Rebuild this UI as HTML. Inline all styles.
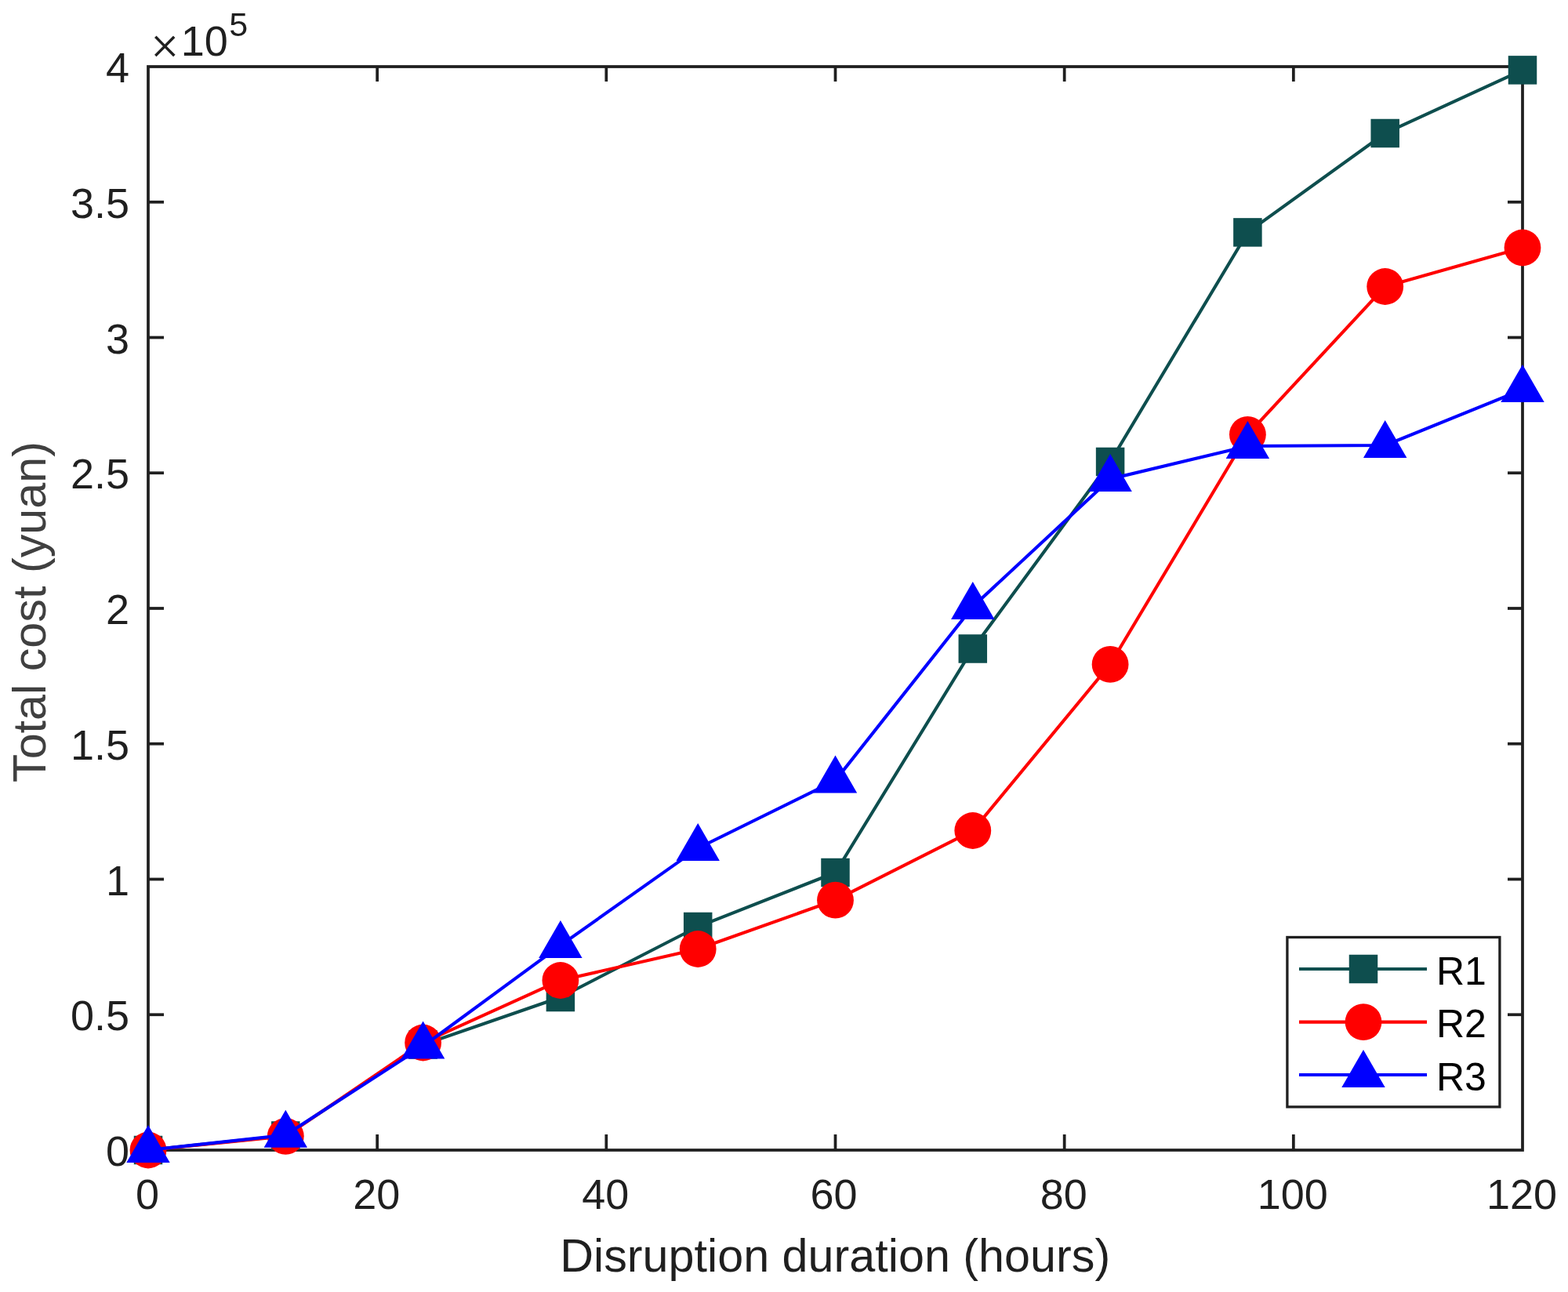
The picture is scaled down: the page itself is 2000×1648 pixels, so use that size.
<!DOCTYPE html><html><head><meta charset="utf-8"><title>Total cost vs disruption duration</title><style>html,body{margin:0;padding:0;background:#fff;width:2000px;height:1648px;overflow:hidden}svg{display:block}text{font-family:'Liberation Sans', Arial, Helvetica, sans-serif}</style></head><body>
<svg width="2000" height="1648" viewBox="0 0 2000 1648">
<rect x="0" y="0" width="2000" height="1648" fill="#fff"/>
<g stroke="#1f1f1f" stroke-width="3.75" fill="none" stroke-linecap="butt">
<rect x="189.0" y="85.0" width="1753.0" height="1382.0"/>
<line x1="481.17" y1="1467.0" x2="481.17" y2="1447.0"/><line x1="481.17" y1="85.0" x2="481.17" y2="104.0"/>
<line x1="773.33" y1="1467.0" x2="773.33" y2="1447.0"/><line x1="773.33" y1="85.0" x2="773.33" y2="104.0"/>
<line x1="1065.50" y1="1467.0" x2="1065.50" y2="1447.0"/><line x1="1065.50" y1="85.0" x2="1065.50" y2="104.0"/>
<line x1="1357.67" y1="1467.0" x2="1357.67" y2="1447.0"/><line x1="1357.67" y1="85.0" x2="1357.67" y2="104.0"/>
<line x1="1649.83" y1="1467.0" x2="1649.83" y2="1447.0"/><line x1="1649.83" y1="85.0" x2="1649.83" y2="104.0"/>
<line x1="189.0" y1="1294.25" x2="209.0" y2="1294.25"/><line x1="1942.0" y1="1294.25" x2="1923.0" y2="1294.25"/>
<line x1="189.0" y1="1121.50" x2="209.0" y2="1121.50"/><line x1="1942.0" y1="1121.50" x2="1923.0" y2="1121.50"/>
<line x1="189.0" y1="948.75" x2="209.0" y2="948.75"/><line x1="1942.0" y1="948.75" x2="1923.0" y2="948.75"/>
<line x1="189.0" y1="776.00" x2="209.0" y2="776.00"/><line x1="1942.0" y1="776.00" x2="1923.0" y2="776.00"/>
<line x1="189.0" y1="603.25" x2="209.0" y2="603.25"/><line x1="1942.0" y1="603.25" x2="1923.0" y2="603.25"/>
<line x1="189.0" y1="430.50" x2="209.0" y2="430.50"/><line x1="1942.0" y1="430.50" x2="1923.0" y2="430.50"/>
<line x1="189.0" y1="257.75" x2="209.0" y2="257.75"/><line x1="1942.0" y1="257.75" x2="1923.0" y2="257.75"/>
</g>
<g fill="#1f1f1f" font-size="54" text-anchor="middle">
<text x="188.00" y="1542">0</text>
<text x="480.17" y="1542">20</text>
<text x="772.33" y="1542">40</text>
<text x="1063.50" y="1542">60</text>
<text x="1356.67" y="1542">80</text>
<text x="1648.83" y="1542">100</text>
<text x="1941.00" y="1542">120</text>
</g>
<g fill="#1f1f1f" font-size="54" text-anchor="end">
<text x="165" y="1487.00">0</text>
<text x="165" y="1314.25">0.5</text>
<text x="165" y="1141.50">1</text>
<text x="165" y="968.75">1.5</text>
<text x="165" y="796.00">2</text>
<text x="165" y="623.25">2.5</text>
<text x="165" y="450.50">3</text>
<text x="165" y="277.75">3.5</text>
<text x="165" y="105.00">4</text>
</g>
<text x="192.1" y="79.8" font-size="62.5" fill="#1f1f1f" stroke="#fff" stroke-width="0.9" paint-order="fill">×</text>
<text x="230.7" y="70.6" font-size="54" fill="#1f1f1f">10</text>
<text x="292.3" y="46.4" font-size="43" fill="#1f1f1f">5</text>
<text x="1065.2" y="1621.5" font-size="59.3" fill="#1f1f1f" text-anchor="middle">Disruption duration (hours)</text>
<text transform="translate(57.6 780.5) rotate(-90)" font-size="59.3" fill="#404040" text-anchor="middle">Total cost (yuan)</text>
<polyline points="189.00,1467.00 364.30,1448.50 539.60,1332.50 714.90,1272.00 890.20,1182.00 1065.50,1113.00 1240.80,827.50 1416.10,589.00 1591.40,296.40 1766.70,170.00 1942.00,89.40" fill="none" stroke="#0e4e4e" stroke-width="4.1" stroke-linejoin="miter"/>
<rect x="170.75" y="1448.75" width="36.5" height="36.5" fill="#0e4e4e"/>
<rect x="346.05" y="1430.25" width="36.5" height="36.5" fill="#0e4e4e"/>
<rect x="521.35" y="1314.25" width="36.5" height="36.5" fill="#0e4e4e"/>
<rect x="696.65" y="1253.75" width="36.5" height="36.5" fill="#0e4e4e"/>
<rect x="871.95" y="1163.75" width="36.5" height="36.5" fill="#0e4e4e"/>
<rect x="1047.25" y="1094.75" width="36.5" height="36.5" fill="#0e4e4e"/>
<rect x="1222.55" y="809.25" width="36.5" height="36.5" fill="#0e4e4e"/>
<rect x="1397.85" y="570.75" width="36.5" height="36.5" fill="#0e4e4e"/>
<rect x="1573.15" y="278.15" width="36.5" height="36.5" fill="#0e4e4e"/>
<rect x="1748.45" y="151.75" width="36.5" height="36.5" fill="#0e4e4e"/>
<rect x="1923.75" y="71.15" width="36.5" height="36.5" fill="#0e4e4e"/>
<polyline points="189.00,1467.00 364.30,1449.30 539.60,1330.00 714.90,1250.50 890.20,1210.50 1065.50,1148.20 1240.80,1059.50 1416.10,847.40 1591.40,554.30 1766.70,365.50 1942.00,316.00" fill="none" stroke="#ff0000" stroke-width="4.1" stroke-linejoin="miter"/>
<circle cx="189.00" cy="1467.00" r="23.4" fill="#ff0000"/>
<circle cx="364.30" cy="1449.30" r="23.4" fill="#ff0000"/>
<circle cx="539.60" cy="1330.00" r="23.4" fill="#ff0000"/>
<circle cx="714.90" cy="1250.50" r="23.4" fill="#ff0000"/>
<circle cx="890.20" cy="1210.50" r="23.4" fill="#ff0000"/>
<circle cx="1065.50" cy="1148.20" r="23.4" fill="#ff0000"/>
<circle cx="1240.80" cy="1059.50" r="23.4" fill="#ff0000"/>
<circle cx="1416.10" cy="847.40" r="23.4" fill="#ff0000"/>
<circle cx="1591.40" cy="554.30" r="23.4" fill="#ff0000"/>
<circle cx="1766.70" cy="365.50" r="23.4" fill="#ff0000"/>
<circle cx="1942.00" cy="316.00" r="23.4" fill="#ff0000"/>
<polyline points="189.00,1467.00 364.30,1447.80 539.60,1334.50 714.90,1205.90 890.20,1081.90 1065.50,995.60 1240.80,773.90 1416.10,610.90 1591.40,569.00 1766.70,568.00 1942.00,497.00" fill="none" stroke="#0000ff" stroke-width="4.1" stroke-linejoin="miter"/>
<polygon points="189.00,1435.00 216.71,1483.00 161.29,1483.00" fill="#0000ff"/>
<polygon points="364.30,1415.80 392.01,1463.80 336.59,1463.80" fill="#0000ff"/>
<polygon points="539.60,1302.50 567.31,1350.50 511.89,1350.50" fill="#0000ff"/>
<polygon points="714.90,1173.90 742.61,1221.90 687.19,1221.90" fill="#0000ff"/>
<polygon points="890.20,1049.90 917.91,1097.90 862.49,1097.90" fill="#0000ff"/>
<polygon points="1065.50,963.60 1093.21,1011.60 1037.79,1011.60" fill="#0000ff"/>
<polygon points="1240.80,741.90 1268.51,789.90 1213.09,789.90" fill="#0000ff"/>
<polygon points="1416.10,578.90 1443.81,626.90 1388.39,626.90" fill="#0000ff"/>
<polygon points="1591.40,537.00 1619.11,585.00 1563.69,585.00" fill="#0000ff"/>
<polygon points="1766.70,536.00 1794.41,584.00 1738.99,584.00" fill="#0000ff"/>
<polygon points="1942.00,465.00 1969.71,513.00 1914.29,513.00" fill="#0000ff"/>
<rect x="1641.9" y="1195.5" width="271.0" height="216.4000000000001" fill="#fff" stroke="#1f1f1f" stroke-width="3.3"/>
<line x1="1657" y1="1236" x2="1820" y2="1236" stroke="#0e4e4e" stroke-width="4.1"/>
<rect x="1720.75" y="1217.75" width="36.5" height="36.5" fill="#0e4e4e"/>
<text x="1831.90" y="1255.50" font-size="50" fill="#000">R1</text>
<line x1="1657" y1="1303.6" x2="1820" y2="1303.6" stroke="#ff0000" stroke-width="4.1"/>
<circle cx="1739.00" cy="1303.60" r="23.4" fill="#ff0000"/>
<text x="1831.90" y="1323.10" font-size="50" fill="#000">R2</text>
<line x1="1657" y1="1371" x2="1820" y2="1371" stroke="#0000ff" stroke-width="4.1"/>
<polygon points="1739.00,1339.00 1766.71,1387.00 1711.29,1387.00" fill="#0000ff"/>
<text x="1831.90" y="1390.50" font-size="50" fill="#000">R3</text>
</svg></body></html>
